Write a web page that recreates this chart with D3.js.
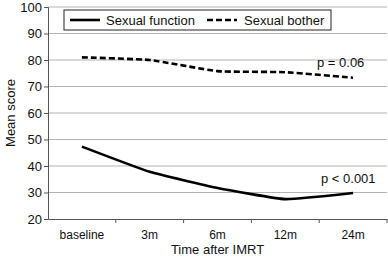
<!DOCTYPE html>
<html>
<head>
<meta charset="utf-8">
<script src="https://cdn.jsdelivr.net/npm/d3@7"></script>
<style>
  html, body { margin: 0; padding: 0; background: #fff; overflow: hidden; }
  svg { display: block; }
  text { font-family: "Liberation Sans", Arial, sans-serif; fill: #111; }
</style>
</head>
<body>
<svg width="388" height="259"></svg>
<script>
const categories = ['baseline', '3m', '6m', '12m', '24m'];
const sexualFunction = [47.3, 37.8, 31.7, 27.5, 29.8];
const sexualBother = [81, 80, 75.8, 75.4, 73.3];
const yTicks = [20, 30, 40, 50, 60, 70, 80, 90, 100];

const svg = d3.select('svg');
const margin = {top: 7, right: 1, bottom: 40, left: 48};
const width = +svg.attr('width');
const height = +svg.attr('height');
const innerWidth = width - margin.left - margin.right;
const innerHeight = height - margin.top - margin.bottom;

const g = svg.append('g')
    .attr('transform', `translate(${margin.left},${margin.top})`);

const xScale = d3.scaleBand()
    .domain(categories)
    .range([0, innerWidth]);

const yScale = d3.scaleLinear()
    .domain([20, 100])
    .range([innerHeight, 0]);

// gridlines
g.selectAll('.grid').data(yTicks.slice(1))
  .enter().append('line')
    .attr('x1', 0)
    .attr('x2', innerWidth)
    .attr('y1', d => yScale(d))
    .attr('y2', d => yScale(d))
    .attr('stroke', '#b3b3b3')
    .attr('stroke-width', 1);

// y axis: ticks from d3, labels drawn as plain text
const yAxis = d3.axisLeft(yScale)
    .tickValues(yTicks)
    .tickSize(4)
    .tickFormat('');
const yAxisG = g.append('g').call(yAxis);
yAxisG.select('.domain').attr('stroke', '#555');
yAxisG.selectAll('line').attr('stroke', '#555');
g.selectAll('.ylab').data(yTicks)
  .enter().append('text')
    .attr('x', -6)
    .attr('y', d => yScale(d) + 4.5)
    .attr('text-anchor', 'end')
    .attr('font-size', 13)
    .text(d => d);

const xAxis = d3.axisBottom(xScale).tickSize(0).tickFormat('');
const xAxisG = g.append('g')
    .attr('transform', `translate(0,${innerHeight})`)
    .call(xAxis);
xAxisG.select('.domain').attr('stroke', '#555');
// tick marks at band boundaries
xAxisG.selectAll('.bnd').data(categories)
  .enter().append('line')
    .attr('x1', d => xScale(d) + xScale.step())
    .attr('x2', d => xScale(d) + xScale.step())
    .attr('y1', 0)
    .attr('y2', 4)
    .attr('stroke', '#555');
g.selectAll('.xlab').data(categories)
  .enter().append('text')
    .attr('x', d => xScale(d) + xScale.bandwidth() / 2)
    .attr('y', innerHeight + 20)
    .attr('text-anchor', 'middle')
    .attr('font-size', 12)
    .text(d => d);

const cx = (d, i) => xScale(categories[i]) + xScale.bandwidth() / 2;
const line = d3.line()
    .x(cx)
    .y(d => yScale(d))
    .curve(d3.curveCardinal.tension(0.6));

g.append('path')
    .attr('d', line(sexualBother))
    .attr('fill', 'none')
    .attr('stroke', '#000')
    .attr('stroke-width', 2.6)
    .attr('stroke-dasharray', '6,3');

g.append('path')
    .attr('d', line(sexualFunction))
    .attr('fill', 'none')
    .attr('stroke', '#000')
    .attr('stroke-width', 2.6);

// p values
g.append('text')
    .attr('x', 269)
    .attr('y', yScale(77.5))
    .attr('font-size', 13)
    .text('p = 0.06');
g.append('text')
    .attr('x', 273)
    .attr('y', yScale(33.5))
    .attr('font-size', 13)
    .text('p < 0.001');

// legend
const legend = svg.append('g').attr('transform', 'translate(64,10)');
legend.append('rect')
    .attr('width', 267)
    .attr('height', 20)
    .attr('fill', '#fff')
    .attr('stroke', '#222')
    .attr('stroke-width', 1);
legend.append('line')
    .attr('x1', 6).attr('x2', 36).attr('y1', 10).attr('y2', 10)
    .attr('stroke', '#000').attr('stroke-width', 2.6);
legend.append('text')
    .attr('x', 42).attr('y', 15)
    .attr('font-size', 13)
    .text('Sexual function');
legend.append('line')
    .attr('x1', 143).attr('x2', 173).attr('y1', 10).attr('y2', 10)
    .attr('stroke', '#000').attr('stroke-width', 2.6)
    .attr('stroke-dasharray', '6,3');
legend.append('text')
    .attr('x', 180).attr('y', 15)
    .attr('font-size', 13)
    .text('Sexual bother');

// axis labels
svg.append('text')
    .attr('transform', `translate(15,${margin.top + innerHeight / 2}) rotate(-90)`)
    .attr('text-anchor', 'middle')
    .attr('font-size', 13)
    .text('Mean score');
svg.append('text')
    .attr('x', margin.left + innerWidth / 2)
    .attr('y', 254)
    .attr('text-anchor', 'middle')
    .attr('font-size', 13)
    .text('Time after IMRT');
</script>
</body>
</html>
